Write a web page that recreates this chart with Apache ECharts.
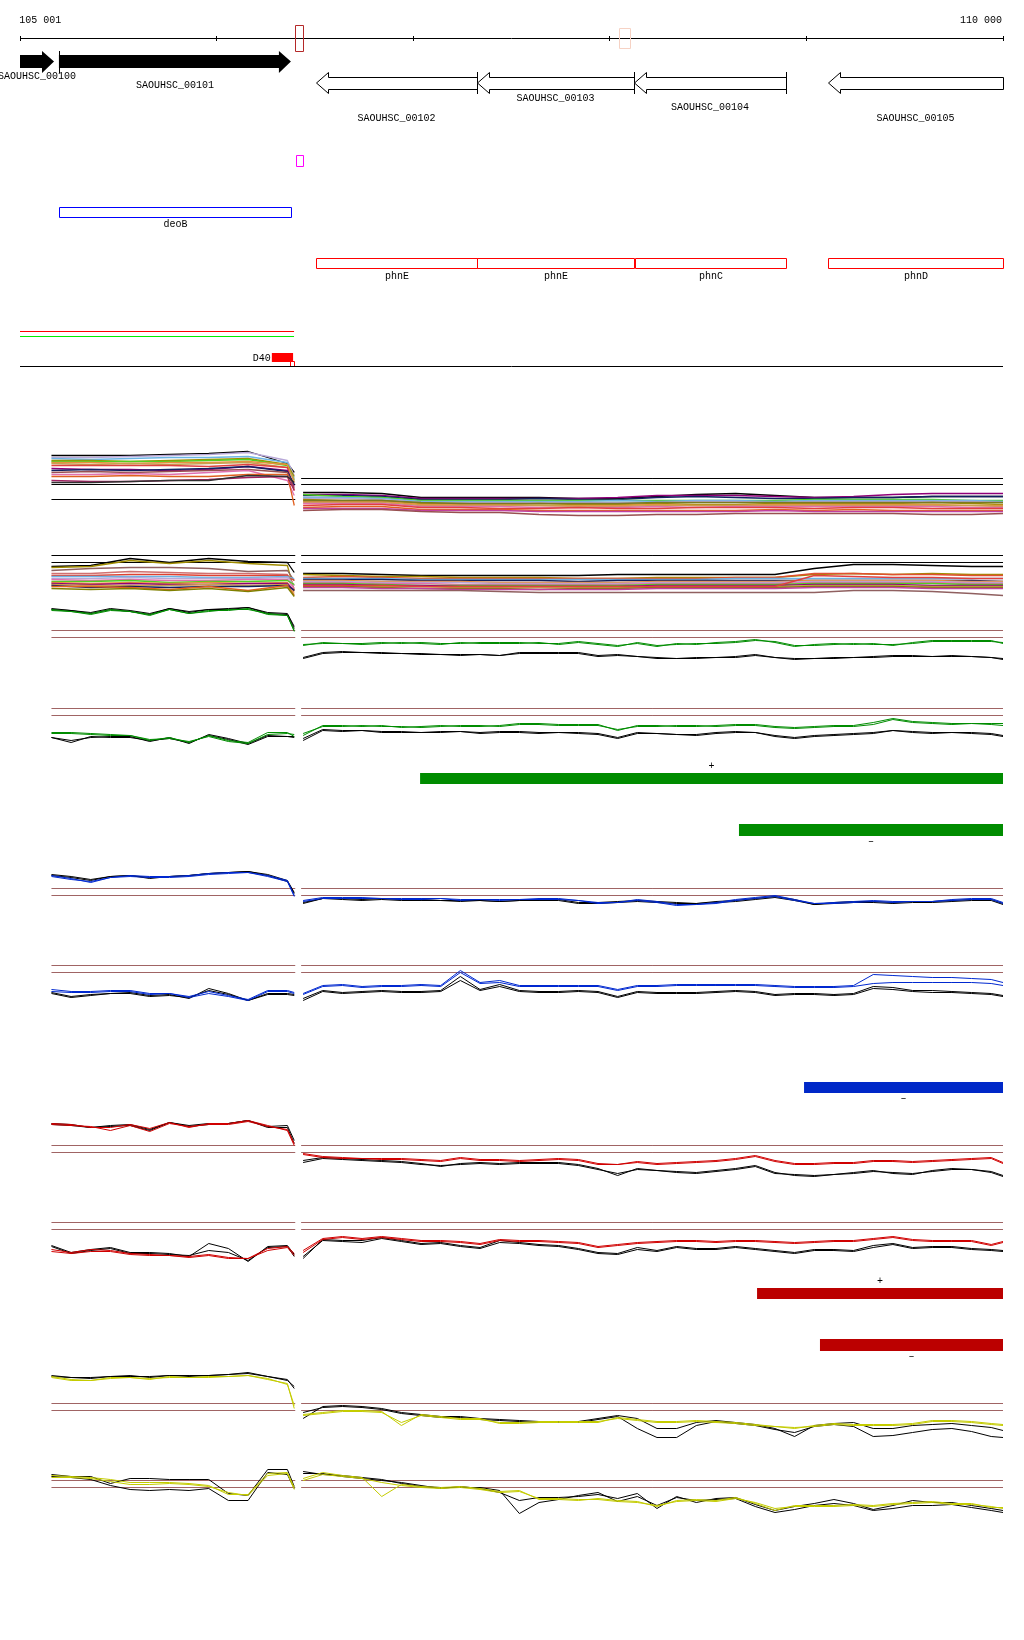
<!DOCTYPE html>
<html><head><meta charset="utf-8">
<script src="https://cdn.jsdelivr.net/npm/echarts@6.0.0/dist/echarts.min.js"></script>
<style>html,body{margin:0;padding:0;background:#fff}#c{width:1024px;height:1640px}</style>
</head><body><div id="c"></div>
<script>
// ---------------- DATA ----------------
const XMIN = 105000, XMAX = 110000;
const rulerTicks = [105000, 106000, 107000, 108000, 109000, 110000];
const rulerLabels = ['105 001', '110 000'];
const rulerLabelPos = [105001, 110000];
const markStart = [106399, 108046];
const markEnd = [106440, 108102];
const selStart = [106404];
const selEnd = [106440];

const geneNames = ['SAOUHSC_00100','SAOUHSC_00101','SAOUHSC_00102','SAOUHSC_00103','SAOUHSC_00104','SAOUHSC_00105'];
const geneStart = [105000, 105198, 106506, 107325, 108123, 109110];
const geneEnd = [105173, 106378, 107325, 108123, 108896, 110000];
const geneStrand = ['+','+','-','-','-','-'];

const featNames = ['deoB','phnE','phnE','phnC','phnD'];
const featStart = [105198, 106506, 107325, 108128, 109110];
const featEnd = [106378, 107325, 108123, 108896, 110000];

const covStart = [105000, 105000];
const covEnd = [106394, 106394];
const siteNames = ['D40'];
const siteStart = [106281];
const siteEnd = [106389];
const siteSubStart = [106373];
const siteSubEnd = [106394];

const barStart = [107035, 108657, 108988, 108749, 109069];
const barEnd = [110000, 110000, 110000, 110000, 110000];
const barStrand = ['+', '\u2013', '\u2013', '+', '\u2013'];

const xsL = [105160,105260,105360,105460,105560,105660,105760,105860,105960,106060,106160,106260,106360,106395];
const xsR = [106440,106540,106640,106740,106840,106940,107040,107140,107240,107340,107440,107540,107640,107740,107840,107940,108040,108140,108240,108340,108440,108540,108640,108740,108840,108940,109040,109140,109240,109340,109440,109540,109640,109740,109840,109940,110000];
const xsLc = [105160,105360,105560,105760,105960,106160,106360,106395];
const xsRc = [106440,106640,106840,107040,107240,107440,107640,107840,108040,108240,108440,108640,108840,109040,109240,109440,109640,109840,110000];
const refL = [105160, 106400];
const refR = [106430, 110000];

// multi-sample panel 1
const m1L = [
 [65,65,65,66,67,69,57,48],[63,63,64,65,66,68,60,45],[62,61,62,63,63,64,58,42],[60,60,59,60,61,62,56,44],
 [59,59,59,59,60,61,55,40],[58,58,57,58,58,59,56,38],[57,56,57,56,57,58,53,41],[55,55,55,55,54,56,53,30],
 [52,51,51,50,51,54,50,34],[50,51,50,51,52,54,49,36],[48,49,48,49,50,51,48,32],[46,46,47,46,48,50,40,25],
 [44,44,45,44,44,46,46,15],[40,39,39,40,41,43,44,30],[38,38,39,40,40,45,44,38]
];
const m1R = [
 [28,28,27,23,23,23,23,22,22,24,26,27,25,23,23,23,24,24,24],
 [26,26,25,22,22,22,22,22,23,25,25,25,24,23,24,26,27,27,27],
 [25,25,24,21,21,21,22,21,21,23,24,23,22,22,23,23,24,24,24],
 [26,24,23,20,20,20,20,20,20,20,20,20,20,21,21,21,21,20,20],
 [23,23,22,19,19,19,19,19,20,19,20,20,19,20,20,20,20,20,19],
 [22,22,21,18,18,18,18,18,18,18,19,19,18,19,19,19,19,19,18],
 [21,20,20,17,17,16,17,16,16,17,16,16,17,17,17,17,18,17,16],
 [19,19,19,16,16,16,15,15,15,16,15,15,16,16,16,16,16,15,15],
 [18,18,18,15,15,15,15,14,14,15,15,15,15,15,15,15,15,15,14],
 [17,17,17,14,14,14,13,13,13,14,13,14,14,14,14,14,14,13,13],
 [15,16,16,13,13,12,12,13,12,12,13,13,13,12,13,13,12,12,12],
 [13,14,14,11,11,11,10,10,10,10,10,10,11,10,11,10,10,10,10],
 [12,12,12,10,10,10,9,9,9,9,9,9,10,9,9,9,9,9,9],
 [10,11,11,9,8,8,6,5,5,6,6,7,7,7,7,7,6,6,7],
 [20,20,20,18,17,17,17,17,17,18,18,18,18,18,18,18,18,18,18]
];
// multi-sample panel 2
const m2L = [
 [34,35,42,38,42,39,38,28],[33,34,40,37,40,37,35,10],[30,32,33,33,32,29,30,20],[27,27,29,28,27,27,26,15],
 [25,25,26,26,25,25,25,20],[24,24,24,24,23,23,24,22],[22,22,23,22,22,22,23,15],[21,20,21,20,20,21,21,12],
 [19,19,20,18,19,19,20,16],[18,17,18,17,18,17,18,8],[17,16,17,16,16,17,17,10],[16,15,15,15,16,15,16,6],
 [15,13,14,13,14,14,15,10],[14,14,13,11,14,10,15,5],[12,11,12,10,12,9,13,4]
];
const m2R = [
 [27,27,26,25,25,25,25,25,26,26,26,26,26,32,36,36,35,34,34],
 [26,25,24,24,23,23,23,22,22,23,23,23,23,26,27,26,27,26,26],
 [23,24,23,22,22,22,22,22,22,22,22,23,23,27,27,26,26,25,25],
 [22,22,22,21,21,21,21,21,21,21,21,22,22,22,22,22,22,22,22],
 [21,21,21,20,20,20,20,19,20,20,20,20,20,20,20,20,20,20,19],
 [20,20,19,19,19,18,18,18,18,19,19,19,19,20,20,20,20,19,19],
 [19,19,18,18,18,17,17,17,17,18,18,18,18,19,19,19,19,18,18],
 [18,18,17,17,16,16,16,16,16,17,17,17,17,18,18,18,18,17,17],
 [17,17,16,15,15,15,15,15,15,16,16,16,16,17,17,17,17,16,16],
 [16,16,15,15,14,14,14,14,14,15,15,15,15,16,16,16,15,15,15],
 [15,15,14,14,13,13,13,13,13,14,14,14,14,15,15,15,14,14,14],
 [14,14,13,12,12,12,11,12,12,13,13,13,13,14,14,14,13,13,13],
 [13,13,12,12,11,11,11,11,11,12,12,12,12,13,13,13,12,12,12],
 [10,10,10,10,10,9,8,8,8,8,8,8,8,8,10,10,9,7,5],
 [15,15,15,14,14,14,14,14,14,14,14,14,14,25,24,23,23,22,22]
];

// green tracks
const g1LkA = [62,60,57,61,59,56,62,58,61,61,63,57,56,42];
const g1LkB = [61,60,58,62,60,57,62,59,61,62,63,58,57,44];
const g1LcA = [61,59,56,60,59,55,61,57,60,60,62,56,55,40];
const g1LcB = [60,59,57,61,59,56,61,57,59,61,61,57,55,39];
const g1RkA = [13,18,19,18,18,17,17,16,16,16,15,18,18,18,18,15,16,14,13,12,13,13,14,16,13,12,12,13,13,14,15,15,14,15,14,13,12];
const g1RkB = [12,17,18,18,17,17,16,16,15,16,15,17,17,17,17,14,15,14,12,12,12,13,13,15,13,11,12,12,13,13,14,14,14,14,14,13,11];
const g1RcA = [25,28,27,27,28,27,28,27,27,28,28,28,27,27,29,27,25,27,24,27,26,28,29,31,28,24,26,27,26,27,25,28,30,30,30,30,27];
const g1RcB = [26,27,27,26,27,28,27,26,28,27,27,27,28,26,28,26,24,28,25,26,27,27,28,30,29,25,25,26,27,26,26,27,29,29,29,29,28];

const g2LkA = [23,20,23,24,24,19,23,17,26,22,17,25,24,24];
const g2LkB = [23,18,24,23,23,20,22,18,25,21,16,24,24,23];
const g2LcA = [28,28,27,26,25,20,23,18,25,20,18,28,28,24];
const g2LcB = [27,27,26,25,25,21,22,19,24,19,17,26,27,26];
const g2RkA = [22,31,30,30,29,29,28,29,29,28,29,29,28,28,28,27,23,28,27,26,26,28,29,28,25,23,25,26,27,28,30,29,28,28,28,27,25];
const g2RkB = [20,30,29,30,28,28,28,28,29,27,28,28,27,28,27,26,22,27,27,26,25,27,28,28,24,22,24,25,26,27,30,28,27,28,27,26,24];
const g2RcA = [25,35,35,34,35,33,34,35,34,34,35,37,37,36,36,36,30,35,35,34,34,35,36,36,34,33,34,35,35,38,42,39,38,37,37,37,37];
const g2RcB = [27,34,34,35,34,34,33,34,35,35,34,36,36,35,35,35,31,34,34,35,35,34,35,35,33,32,33,34,34,36,41,38,37,36,37,36,35];

// blue tracks
const b1LkA = [45,43,40,44,45,43,44,45,47,48,49,45,39,27];
const b1LkB = [46,44,41,44,45,42,44,45,47,48,49,46,40,28];
const b1LcA = [45,42,38,43,45,44,44,45,47,48,48,45,40,25];
const b1LcB = [44,41,39,43,44,43,43,44,46,47,48,44,39,24];
const b1RkA = [18,22,22,21,22,21,21,20,20,20,19,20,21,21,18,18,19,20,19,18,17,19,20,22,24,21,16,18,19,19,18,19,19,20,21,21,17];
const b1RkB = [17,22,21,20,21,20,20,20,19,20,19,20,20,20,17,17,18,19,18,17,17,18,19,21,23,20,16,17,18,18,17,18,18,19,20,20,16];
const b1RcA = [20,23,23,23,22,22,22,22,21,21,21,21,22,22,20,18,18,21,19,16,16,18,21,23,25,21,17,18,19,20,19,19,19,21,22,22,18];
const b1RcB = [19,22,22,22,22,21,21,22,20,21,20,21,21,21,20,17,18,20,18,15,16,17,20,22,24,20,17,17,18,19,18,19,19,20,21,21,17];

const b2LkA = [28,24,26,27,28,25,26,22,32,27,20,27,27,26];
const b2LkB = [27,23,25,27,27,24,25,23,30,26,20,26,26,25];
const b2LcA = [31,29,29,30,30,27,27,24,29,25,21,30,30,28];
const b2LcB = [29,28,28,29,29,26,27,23,27,24,20,29,29,27];
const b2RkA = [22,30,28,29,30,29,29,30,44,31,36,30,29,29,30,29,24,29,28,28,28,29,30,29,26,27,27,26,27,34,33,30,30,29,28,27,25];
const b2RkB = [20,29,27,28,29,28,28,29,40,30,34,29,28,28,29,28,23,28,27,27,27,28,29,28,25,26,26,25,26,32,31,29,28,28,27,26,24];
const b2RcA = [27,35,36,34,35,35,36,35,50,38,40,35,35,35,35,35,31,35,35,36,36,36,36,36,35,34,34,34,35,46,45,44,43,43,42,41,38];
const b2RcB = [26,34,35,33,34,34,35,34,48,37,38,34,34,34,34,34,30,34,34,35,35,35,35,35,34,33,33,33,34,37,38,38,38,38,38,37,35];

// red tracks
const r1LkA = [62,61,58,60,61,56,63,60,62,62,65,59,60,45];
const r1LkB = [61,60,58,59,60,55,63,59,61,62,65,58,58,42];
const r1LcA = [62,61,58,58,61,57,63,58,62,62,65,60,55,40];
const r1LcB = [61,60,59,55,60,54,62,59,61,61,64,59,56,42];
const r1RkA = [25,28,27,26,25,24,22,19,22,23,22,23,23,23,21,17,10,17,15,14,13,15,17,20,13,10,9,11,13,15,12,11,15,17,16,13,9];
const r1RkB = [23,27,26,25,24,23,21,20,21,22,21,22,22,22,20,16,12,16,15,13,12,14,16,19,12,11,10,11,12,14,13,12,14,16,16,14,10];
const r1RcA = [32,29,28,27,27,27,26,25,28,26,26,25,26,27,26,22,21,24,22,23,24,25,27,30,25,22,22,23,23,25,25,24,25,26,27,28,23];
const r1RcB = [31,28,27,27,26,26,25,24,27,25,25,24,25,26,25,21,21,23,21,22,23,24,26,29,24,21,21,22,22,24,24,23,24,25,26,27,22];

const r2LkA = [35,28,31,33,28,28,27,24,37,32,19,34,35,26];
const r2LkB = [34,27,30,32,27,27,26,25,30,28,20,33,34,24];
const r2LcA = [31,28,31,30,27,26,25,24,26,23,22,32,34,27];
const r2LcB = [29,27,29,29,26,25,25,23,25,22,22,30,33,25];
const r2RkA = [22,41,40,40,43,40,37,38,35,33,40,38,36,35,32,28,27,33,30,34,32,32,34,32,30,28,31,31,30,35,37,33,34,34,32,31,30];
const r2RkB = [24,40,39,38,42,39,36,37,34,32,38,37,35,34,31,27,26,31,29,33,31,31,33,31,29,27,30,30,29,33,36,32,33,33,31,30,29];
const r2RcA = [30,42,44,42,44,42,40,40,39,37,41,40,40,39,38,34,36,38,39,40,40,39,40,40,39,38,39,40,40,42,44,41,40,40,40,36,39];
const r2RcB = [28,41,43,41,43,41,39,39,38,36,40,39,39,38,37,33,35,37,38,39,39,38,39,39,38,37,38,39,39,41,43,40,39,39,39,35,38];

// yellow tracks
const y1LkA = [65,63,63,64,65,63,65,65,65,66,68,64,61,52];
const y1LkB = [64,63,62,64,64,64,65,64,65,66,67,64,60,54];
const y1LcA = [63,60,60,62,63,62,63,63,63,64,65,61,57,32];
const y1LcB = [64,61,60,63,63,61,64,63,64,64,65,62,56,35];
const y1RkA = [22,34,35,34,32,28,26,24,24,22,21,20,19,19,19,22,25,22,12,12,18,20,18,16,12,4,15,17,18,12,12,15,16,17,15,13,10];
const y1RkB = [28,33,34,33,31,27,25,23,23,21,20,19,18,18,18,21,24,12,3,3,15,19,17,15,11,8,14,16,14,4,5,8,11,12,9,4,3];
const y1RcA = [26,28,30,30,29,15,26,24,22,22,17,17,18,18,18,18,23,21,19,19,20,19,18,16,14,12,15,17,16,16,16,17,20,20,19,17,16];
const y1RcB = [25,27,29,29,28,18,25,23,21,21,18,18,19,19,19,19,22,20,18,18,19,18,17,15,14,13,14,16,15,15,15,16,19,19,18,16,15];

const y2LkA = [56,54,54,47,52,52,51,51,51,37,35,61,61,44];
const y2LkB = [54,53,51,45,41,40,41,40,42,30,30,58,56,42];
const y2LcA = [55,54,53,51,48,48,48,47,45,36,36,57,58,43];
const y2LcB = [53,53,52,49,46,46,47,46,44,38,35,55,57,41];
const y2RkA = [57,57,54,52,50,48,45,42,44,42,38,30,33,33,34,36,32,37,22,34,28,32,33,26,20,24,27,31,27,21,25,30,28,28,25,22,20];
const y2RkB = [59,56,55,53,51,47,44,43,43,43,40,17,28,31,35,38,29,34,25,33,30,31,32,24,18,21,25,27,25,20,22,25,25,26,23,20,18];
const y2RcA = [52,58,55,53,34,46,44,43,44,42,39,40,31,31,30,32,30,29,24,30,31,30,33,27,20,25,25,25,26,25,27,28,29,27,27,23,23];
const y2RcB = [50,56,54,52,48,45,43,42,43,41,38,39,32,32,31,31,29,28,25,29,30,29,32,28,22,24,24,24,25,24,26,27,28,26,26,24,22];

// ---------------- STYLE / LAYOUT ----------------
const FONT = '10px "Liberation Mono", "DejaVu Sans Mono", monospace';
const GREEN = '#008c00', BLUE = '#0028d0', RED = '#d00000', YELLOW = '#c4cc00', REFC = '#a06464';
const GENE_LABEL_Y = [76, 85, 118, 98, 107, 118];
const FEAT_Y = [207.5, 258.5, 258.5, 258.5, 258.5];
const FEAT_LABEL_Y = [224, 276, 276, 276, 276];
const FEAT_COLORS = ['#0000ff', '#ff0000', '#ff0000', '#ff0000', '#ff0000'];
const COV_Y = [331.5, 336.5];
const COV_COLORS = ['#ff0000', '#00ee00'];
const BAR_Y = [773, 824, 1082, 1288, 1339];
const BAR_H = [11, 12, 11, 11, 12];
const BAR_COLORS = [GREEN, GREEN, '#0028c8', '#bb0000', '#bb0000'];
const m1LColors = ['#000000','#b8a8d8','#6cb4e4','#a08c00','#50d020','#e89040','#c8a050','#e04040','#900078','#102060','#985050','#e070b0','#e06020','#a02060','#303030'];
const m1RColors = ['#000000','#900078','#102060','#50d020','#6cb4e4','#b8a8d8','#a08c00','#e89040','#c8a050','#e070b0','#e04040','#e06020','#c040a0','#985050','#7a7a20'];
const m2LColors = ['#000000','#a08c00','#906060','#d07070','#e04030','#6cb4e4','#b8a8d8','#e070b0','#50d020','#e89040','#900078','#c8a050','#102060','#e06020','#808000'];
const m2RColors = ['#000000','#a08c00','#e05030','#6cb4e4','#102060','#e89040','#b8a8d8','#e070b0','#50d020','#900078','#c8a050','#808000','#c040a0','#906060','#e04040'];

const bandDefs = [
  {top:440, h:80, multi:true, L:m1L, R:m1R, LC:m1LColors, RC:m1RColors, refsL:[36,21], refsR:[42,36], refColor:'#000'},
  {top:530, h:70, multi:true, L:m2L, R:m2R, LC:m2LColors, RC:m2RColors, refsL:[45,38], refsR:[45,38], refColor:'#000'},
  {top:590, h:80, color:GREEN, L:[g1LkA,g1LkB,g1LcA,g1LcB], R:[g1RkA,g1RkB,g1RcA,g1RcB], refs:[40,33]},
  {top:690, h:70, color:GREEN, L:[g2LkA,g2LkB,g2LcA,g2LcB], R:[g2RkA,g2RkB,g2RcA,g2RcB], refs:[52,45]},
  {top:850, h:70, color:BLUE, L:[b1LkA,b1LkB,b1LcA,b1LcB], R:[b1RkA,b1RkB,b1RcA,b1RcB], refs:[32,25]},
  {top:950, h:70, color:BLUE, L:[b2LkA,b2LkB,b2LcA,b2LcB], R:[b2RkA,b2RkB,b2RcA,b2RcB], refs:[55,48]},
  {top:1105, h:80, color:RED, L:[r1LkA,r1LkB,r1LcA,r1LcB], R:[r1RkA,r1RkB,r1RcA,r1RcB], refs:[40,33]},
  {top:1210, h:70, color:RED, L:[r2LkA,r2LkB,r2LcA,r2LcB], R:[r2RkA,r2RkB,r2RcA,r2RcB], refs:[58,51]},
  {top:1360, h:80, color:YELLOW, L:[y1LkA,y1LkB,y1LcA,y1LcB], R:[y1RkA,y1RkB,y1RcA,y1RcB], refs:[37,30]},
  {top:1455, h:75, color:YELLOW, L:[y2LkA,y2LkB,y2LcA,y2LcB], R:[y2RkA,y2RkB,y2RcA,y2RcB], refs:[50,43]}
];

// ---------------- BUILD ----------------
const grids = [{left:20, right:21, top:0, height:1640}];
const xAxes = [{gridIndex:0, type:'value', min:XMIN, max:XMAX, show:false}];
const yAxes = [{gridIndex:0, type:'value', min:0, max:1, show:false}];
const series = [];

function mkLine(gi, xs, ys, color, w) {
  return {type:'line', xAxisIndex:gi, yAxisIndex:gi, data: xs.map((x, k) => [x, ys[k]]),
    symbol:'none', showSymbol:false, lineStyle:{color:color, width:w || 1}, silent:true, animation:false};
}

bandDefs.forEach((b, k) => {
  const gi = k + 1;
  grids.push({left:20, right:21, top:b.top + 0.5, height:b.h});
  xAxes.push({gridIndex:gi, type:'value', min:XMIN, max:XMAX, show:false});
  yAxes.push({gridIndex:gi, type:'value', min:0, max:b.h, show:false});
  const rl = b.refsL || b.refs, rr = b.refsR || b.refs, rc = b.refColor || REFC;
  rl.forEach(v => series.push(mkLine(gi, refL, [v, v], rc)));
  rr.forEach(v => series.push(mkLine(gi, refR, [v, v], rc)));
  if (b.multi) {
    b.L.forEach((ys, j) => series.push(mkLine(gi, xsLc, ys, b.LC[j], 1.3)));
    b.R.forEach((ys, j) => series.push(mkLine(gi, xsRc, ys, b.RC[j], 1.3)));
  } else {
    b.L.forEach((ys, j) => series.push(mkLine(gi, xsL, ys, j < 2 ? '#000' : b.color)));
    b.R.forEach((ys, j) => series.push(mkLine(gi, xsR, ys, j < 2 ? '#000' : b.color)));
  }
});

function px(api, bp) { return api.coord([bp, 0])[0]; }
function crisp(v) { return Math.round(v) + 0.5; }
function txt(t, x, y, align) {
  return {type:'text', style:{text:t, x:x, y:y, font:FONT, fill:'#000', align:align || 'center', verticalAlign:'middle'}};
}
function custom(data, renderItem) {
  return {type:'custom', xAxisIndex:0, yAxisIndex:0, silent:true, animation:false, data:data, encode:{x:[0,1], y:2}, renderItem:renderItem};
}

// ruler line and ticks
series.push(custom([[XMIN, XMAX, 0]], (params, api) =>
  ({type:'line', shape:{x1:px(api, XMIN), y1:38.5, x2:px(api, XMAX), y2:38.5}, style:{stroke:'#000', lineWidth:1}})));
series.push(custom(rulerTicks.map(t => [t, t, 0]), (params, api) => {
  const x = crisp(px(api, rulerTicks[params.dataIndex]) - 0.5);
  return {type:'line', shape:{x1:x, y1:36, x2:x, y2:41}, style:{stroke:'#000', lineWidth:1}};
}));
series.push(custom(rulerLabelPos.map(p => [p, p, 0]), (params, api) => {
  const i = params.dataIndex;
  const x = px(api, rulerLabelPos[i]);
  return txt(rulerLabels[i], x - 1, 20, i === 0 ? 'left' : 'right');
}));
series.push(custom(markStart.map((s, i) => [s, markEnd[i], 0]), (params, api) => {
  const i = params.dataIndex;
  const x0 = crisp(px(api, markStart[i])), x1 = crisp(px(api, markEnd[i]));
  const y0 = i === 0 ? 25.5 : 28.5, y1 = i === 0 ? 51.5 : 48.5;
  return {type:'rect', shape:{x:x0, y:y0, width:x1 - x0, height:y1 - y0},
    style:{fill:'none', stroke: i === 0 ? '#b42828' : '#f6d2c4', lineWidth:1}};
}));
series.push(custom(selStart.map((s, i) => [s, selEnd[i], 0]), (params, api) => {
  const i = params.dataIndex;
  const x0 = crisp(px(api, selStart[i])), x1 = crisp(px(api, selEnd[i]));
  return {type:'rect', shape:{x:x0, y:155.5, width:x1 - x0, height:11}, style:{fill:'none', stroke:'#ff00ff', lineWidth:1}};
}));
series.push(custom(geneStart.map((s, i) => [s, geneEnd[i], 0]), (params, api) => {
  const i = params.dataIndex;
  const xa = px(api, geneStart[i]), xb = px(api, geneEnd[i]);
  const H = 12, ch = [];
  if (geneStrand[i] === '+') {
    const pts = [[xa,55],[xb-H,55],[xb-H,51],[xb,61.5],[xb-H,73],[xb-H,68],[xa,68]];
    ch.push({type:'polygon', shape:{points:pts}, style:{fill:'#000'}});
    if (geneStart[i] > XMIN) ch.push({type:'line', shape:{x1:crisp(xa), y1:51, x2:crisp(xa), y2:73}, style:{stroke:'#000', lineWidth:1}});
  } else {
    const xl = crisp(xa), xr = crisp(xb);
    const pts = [[xl,83],[xl+H,72.5],[xl+H,77.5],[xr,77.5],[xr,89.5],[xl+H,89.5],[xl+H,93.5]];
    ch.push({type:'polygon', shape:{points:pts}, style:{fill:'#fff', stroke:'#000', lineWidth:1}});
    if (geneEnd[i] < XMAX) ch.push({type:'line', shape:{x1:xr, y1:72, x2:xr, y2:94}, style:{stroke:'#000', lineWidth:1}});
  }
  ch.push(txt(geneNames[i], (xa + xb) / 2, GENE_LABEL_Y[i]));
  return {type:'group', children:ch};
}));
series.push(custom(featStart.map((s, i) => [s, featEnd[i], 0]), (params, api) => {
  const i = params.dataIndex;
  const xa = crisp(px(api, featStart[i])), xb = crisp(px(api, featEnd[i]));
  return {type:'group', children:[
    {type:'rect', shape:{x:xa, y:FEAT_Y[i], width:xb - xa, height:10}, style:{fill:'none', stroke:FEAT_COLORS[i], lineWidth:1}},
    txt(featNames[i], (xa + xb) / 2, FEAT_LABEL_Y[i])
  ]};
}));
series.push(custom(covStart.map((s, i) => [s, covEnd[i], 0]), (params, api) => {
  const i = params.dataIndex;
  return {type:'line', shape:{x1:px(api, covStart[i]), y1:COV_Y[i], x2:px(api, covEnd[i]), y2:COV_Y[i]}, style:{stroke:COV_COLORS[i], lineWidth:1}};
}));
series.push(custom(siteStart.map((s, i) => [s, siteEnd[i], 0]), (params, api) => {
  const i = params.dataIndex;
  const xa = px(api, siteStart[i]), xb = px(api, siteEnd[i]);
  const sa = crisp(px(api, siteSubStart[i])), sb = crisp(px(api, siteSubEnd[i]));
  return {type:'group', children:[
    {type:'rect', shape:{x:xa, y:353, width:xb - xa, height:9}, style:{fill:'#ff0000'}},
    {type:'rect', shape:{x:sa, y:361.5, width:sb - sa, height:5}, style:{fill:'none', stroke:'#ff0000', lineWidth:1}},
    txt(siteNames[i], xa - 1, 358, 'right')
  ]};
}));
series.push(custom([[XMIN, XMAX, 0]], (params, api) =>
  ({type:'line', shape:{x1:px(api, XMIN), y1:366.5, x2:px(api, XMAX), y2:366.5}, style:{stroke:'#000', lineWidth:1}})));
series.push(custom(barStart.map((s, i) => [s, barEnd[i], 0]), (params, api) => {
  const i = params.dataIndex;
  const xa = px(api, barStart[i]), xb = px(api, barEnd[i]);
  const plus = barStrand[i] === '+';
  const ly = plus ? BAR_Y[i] - 7 : BAR_Y[i] + BAR_H[i] + 5;
  return {type:'group', children:[
    {type:'rect', shape:{x:xa, y:BAR_Y[i], width:xb - xa, height:BAR_H[i]}, style:{fill:BAR_COLORS[i]}},
    txt(barStrand[i], (xa + xb) / 2, ly)
  ]};
}));

const chart = echarts.init(document.getElementById('c'), null, {renderer:'canvas'});
chart.setOption({animation:false, backgroundColor:'#fff', grid:grids, xAxis:xAxes, yAxis:yAxes, series:series});
</script></body></html>
